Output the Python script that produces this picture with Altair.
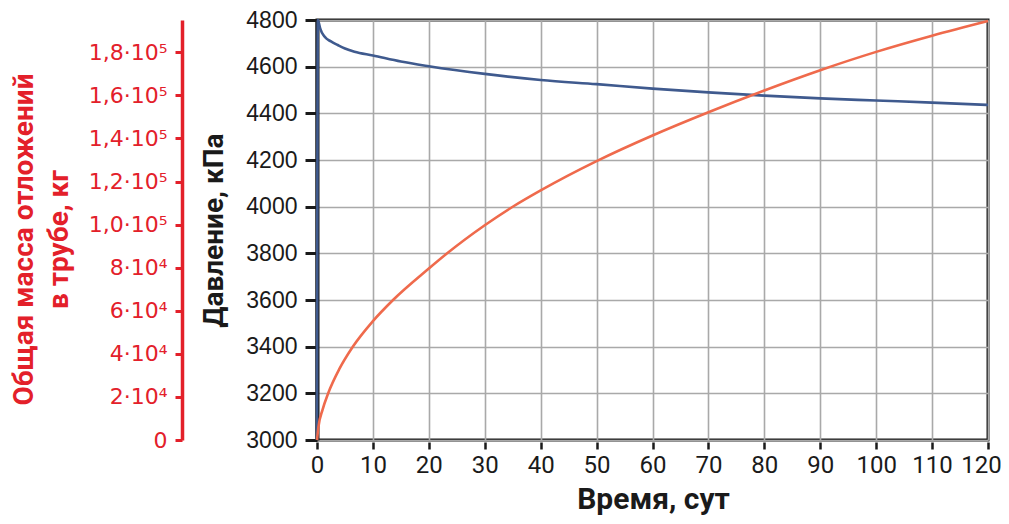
import altair as alt
import pandas as pd

# Pressure curve (blue), kPa
blue_t = [0, 0.15, 0.3, 0.6, 1.3, 2.5, 3.7, 5, 6.7, 10, 15, 20, 30, 40, 50, 60, 70, 80, 90, 100, 110, 120]
blue_p = [3000, 4800, 4790, 4762, 4730, 4708, 4693, 4678, 4664, 4648, 4622, 4602, 4569, 4543, 4525, 4506, 4490, 4476, 4464, 4455, 4446, 4436]

# Deposit mass curve (red), kg
red_t = [0, 0.25, 1, 2, 4, 6.4, 10, 13.6, 20, 23, 30, 35, 40, 50, 60, 70, 80, 90, 100, 110, 120]
red_m = [0, 6000, 14100, 21700, 33000, 43300, 55200, 65000, 79600, 86100, 99700, 108300, 115900,
         129500, 141400, 152200, 162300, 171700, 180200, 187700, 194500]

x_ticks = list(range(0, 121, 10))
p_ticks = list(range(3000, 4801, 200))
m_ticks = [0, 20000, 40000, 60000, 80000, 100000, 120000, 140000, 160000, 180000]
m_labels = ["0", "2·10⁴", "4·10⁴", "6·10⁴", "8·10⁴", "1,0·10⁵", "1,2·10⁵", "1,4·10⁵", "1,6·10⁵", "1,8·10⁵"]

df_p = pd.DataFrame({"t": blue_t, "p": blue_p})
df_m = pd.DataFrame({"t": red_t, "m": red_m})

RED_AXIS = "#e3202a"
BLUE = "#3f5a8e"
ORANGE = "#ef6a4c"
TITLE_FONT = "Roboto, Liberation Sans, sans-serif"
REG = "Liberation Sans, Arial, sans-serif"
SUPER = "DejaVu Sans, sans-serif"

label_expr = " : ".join(f"datum.value == {v} ? '{l}'" for v, l in zip(m_ticks, m_labels)) + " : ''"

x_enc = alt.X(
    "t:Q",
    scale=alt.Scale(domain=[0, 120], nice=False, zero=False),
    axis=alt.Axis(
        values=x_ticks, title="Время, сут", grid=True, gridColor="#a9a9a9", gridWidth=1.6,
        domain=False, tickColor="#1a1a1a", tickWidth=2.5, tickSize=7, offset=2,
        labelFont="Roboto", labelFontSize=24, labelColor="#1a1a1a", labelPadding=4,
        labelFlush=False,
        labelOffset={"condition": {"test": "datum.value == 120", "value": -7}, "value": 0},
        titleFont=TITLE_FONT, titleFontSize=30, titleFontWeight="bold", titleColor="#1a1a1a",
        titleBaseline="alphabetic", titleY=66, titleX=336, titleAlign="center",
    ),
)

blue = alt.Chart(df_p).mark_line(color=BLUE, strokeWidth=2.6, interpolate="monotone").encode(
    x=x_enc,
    y=alt.Y(
        "p:Q",
        scale=alt.Scale(domain=[3000, 4800], nice=False, zero=False),
        axis=alt.Axis(
            orient="left", values=p_ticks, format="d", title="Давление, кПа", grid=True,
            gridColor="#a9a9a9", gridWidth=1.6,
            domainColor="#1a1a1a", domainWidth=4, tickColor="#1a1a1a", tickWidth=3, tickSize=12,
            labelFont=REG, labelFontSize=23, labelColor="#1a1a1a", labelPadding=8,
            labelFlush=False,
            titleFont=TITLE_FONT, titleFontSize=28, titleFontWeight="bold", titleColor="#1a1a1a",
            titleAngle=270, titleX=-117, titleY=210, titleAlign="center", titleBaseline="top",
        ),
    ),
)

red = alt.Chart(df_m).mark_line(color=ORANGE, strokeWidth=2.6, interpolate="monotone").encode(
    x=alt.X("t:Q"),
    y=alt.Y(
        "m:Q",
        scale=alt.Scale(domain=[0, 195000], nice=False, zero=False),
        axis=alt.Axis(
            orient="left", offset=135, values=m_ticks, labelExpr=label_expr, grid=False,
            title=["Общая масса отложений", "в трубе, кг"],
            domainColor=RED_AXIS, domainWidth=3.5, tickColor=RED_AXIS, tickWidth=3, tickSize=7,
            labelFont=SUPER, labelFontSize=22, labelColor=RED_AXIS, labelPadding=8,
            labelFlush=False,
            titleFont=TITLE_FONT, titleFontSize=28, titleFontWeight="bold", titleColor=RED_AXIS,
            titleAngle=270, titleX=-172, titleY=219, titleAlign="center", titleBaseline="top",
            titleLineHeight=35,
        ),
    ),
)

chart = (
    alt.layer(blue, red)
    .resolve_scale(y="independent")
    .properties(
        width=671, height=420,
        padding={"left": 309, "top": 12, "right": 13, "bottom": 76},
        autosize=alt.AutoSizeParams(type="none"),
        background="white",
    )
    .configure_view(stroke="#1a1a1a", strokeWidth=3)
)

chart.save("out.html", embed_options={"renderer": "svg", "actions": False})
